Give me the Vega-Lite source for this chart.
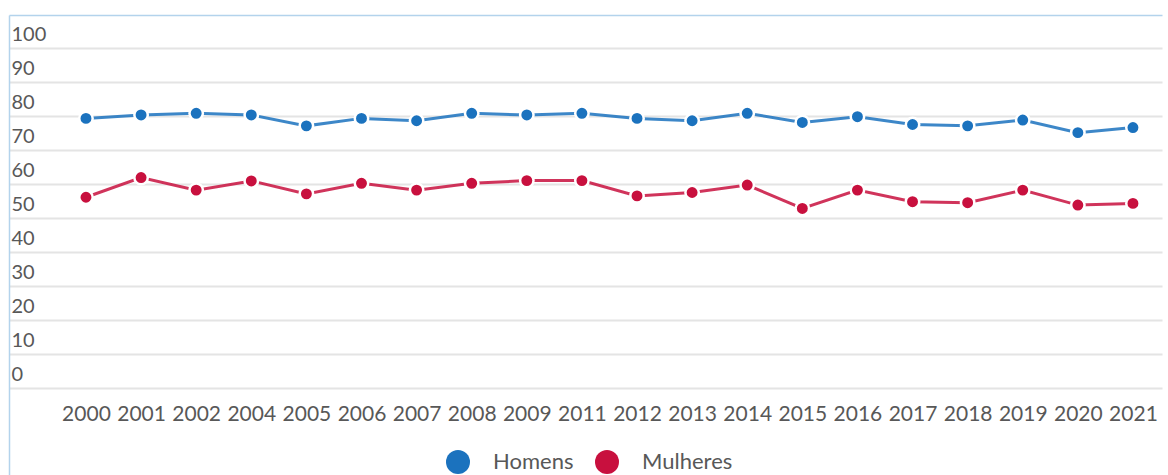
{
  "$schema": "https://vega.github.io/schema/vega-lite/v6.json",
  "width": 1153,
  "height": 460,
  "autosize": {"type": "none"},
  "padding": {"left": 9, "top": 15, "right": 6, "bottom": 0},
  "background": "white",
  "config": {
    "view": {"stroke": null},
    "font": "Lato",
    "axis": {"labelFont": "Lato", "labelColor": "#585858"}
  },
  "data": {
    "values": [
      {"ano": "2000", "sexo": "Homens", "valor": 79.3},
      {"ano": "2001", "sexo": "Homens", "valor": 80.3},
      {"ano": "2002", "sexo": "Homens", "valor": 80.8},
      {"ano": "2004", "sexo": "Homens", "valor": 80.3},
      {"ano": "2005", "sexo": "Homens", "valor": 77.1},
      {"ano": "2006", "sexo": "Homens", "valor": 79.3},
      {"ano": "2007", "sexo": "Homens", "valor": 78.6},
      {"ano": "2008", "sexo": "Homens", "valor": 80.8},
      {"ano": "2009", "sexo": "Homens", "valor": 80.3},
      {"ano": "2011", "sexo": "Homens", "valor": 80.8},
      {"ano": "2012", "sexo": "Homens", "valor": 79.3},
      {"ano": "2013", "sexo": "Homens", "valor": 78.6},
      {"ano": "2014", "sexo": "Homens", "valor": 80.8},
      {"ano": "2015", "sexo": "Homens", "valor": 78.1},
      {"ano": "2016", "sexo": "Homens", "valor": 79.8},
      {"ano": "2017", "sexo": "Homens", "valor": 77.5},
      {"ano": "2018", "sexo": "Homens", "valor": 77.1},
      {"ano": "2019", "sexo": "Homens", "valor": 78.8},
      {"ano": "2020", "sexo": "Homens", "valor": 75.1},
      {"ano": "2021", "sexo": "Homens", "valor": 76.6},
      {"ano": "2000", "sexo": "Mulheres", "valor": 56.1},
      {"ano": "2001", "sexo": "Mulheres", "valor": 61.9},
      {"ano": "2002", "sexo": "Mulheres", "valor": 58.2},
      {"ano": "2004", "sexo": "Mulheres", "valor": 60.9},
      {"ano": "2005", "sexo": "Mulheres", "valor": 57.1},
      {"ano": "2006", "sexo": "Mulheres", "valor": 60.2},
      {"ano": "2007", "sexo": "Mulheres", "valor": 58.2},
      {"ano": "2008", "sexo": "Mulheres", "valor": 60.2},
      {"ano": "2009", "sexo": "Mulheres", "valor": 61.0},
      {"ano": "2011", "sexo": "Mulheres", "valor": 61.0},
      {"ano": "2012", "sexo": "Mulheres", "valor": 56.5},
      {"ano": "2013", "sexo": "Mulheres", "valor": 57.5},
      {"ano": "2014", "sexo": "Mulheres", "valor": 59.7},
      {"ano": "2015", "sexo": "Mulheres", "valor": 52.8},
      {"ano": "2016", "sexo": "Mulheres", "valor": 58.2},
      {"ano": "2017", "sexo": "Mulheres", "valor": 54.8},
      {"ano": "2018", "sexo": "Mulheres", "valor": 54.5},
      {"ano": "2019", "sexo": "Mulheres", "valor": 58.2},
      {"ano": "2020", "sexo": "Mulheres", "valor": 53.8},
      {"ano": "2021", "sexo": "Mulheres", "valor": 54.3}
    ]
  },
  "encoding": {
    "x": {
      "field": "ano",
      "type": "ordinal",
      "scale": {"type": "point", "padding": 0.962, "align": 0.726},
      "axis": {
        "title": null,
        "orient": "bottom",
        "offset": -61,
        "domain": false,
        "ticks": false,
        "tickSize": 0,
        "grid": false,
        "labelAngle": 0,
        "labelFontSize": 21,
        "labelBaseline": "middle",
        "labelPadding": 0,
        "labelOverlap": false,
        "labelColor": "#585858"
      }
    },
    "y": {
      "field": "valor",
      "type": "quantitative",
      "scale": {"domain": [-25.588, 109.706], "nice": false, "zero": false},
      "axis": {
        "title": null,
        "values": [0, 10, 20, 30, 40, 50, 60, 70, 80, 90, 100, 109.706],
        "labelExpr": "datum.value > 105 ? '' : datum.label",
        "format": "d",
        "domain": true,
        "domainColor": "#b3d3ec",
        "domainWidth": 1.5,
        "ticks": false,
        "tickSize": 0,
        "grid": true,
        "gridColor": {"condition": {"test": "datum.value > 105", "value": "#b3d3ec"}, "value": "#e4e4e4"},
        "gridWidth": {"condition": {"test": "datum.value > 105", "value": 1.5}, "value": 2},
        "labelAlign": "left",
        "labelPadding": -2,
        "labelBaseline": "alphabetic",
        "labelOffset": -8,
        "labelFontSize": 20,
        "labelColor": "#585858"
      }
    },
    "color": {
      "field": "sexo",
      "type": "nominal",
      "scale": {"domain": ["Homens", "Mulheres"], "range": ["#1b72be", "#c8103e"]},
      "legend": {
        "title": null,
        "orient": "none",
        "direction": "horizontal",
        "legendX": 437,
        "legendY": 435,
        "padding": 0,
        "symbolType": "circle",
        "symbolSize": 576,
        "symbolStrokeWidth": 0,
        "symbolOpacity": 1,
        "labelFontSize": 22,
        "labelFont": "Lato",
        "labelColor": "#585858",
        "labelOffset": 23,
        "columnPadding": 21
      }
    }
  },
  "layer": [
    {
      "mark": {"type": "line", "strokeWidth": 3, "opacity": 0.85}
    },
    {
      "mark": {"type": "point", "filled": true, "size": 180, "opacity": 1, "stroke": "white", "strokeWidth": 2.5}
    }
  ]
}
